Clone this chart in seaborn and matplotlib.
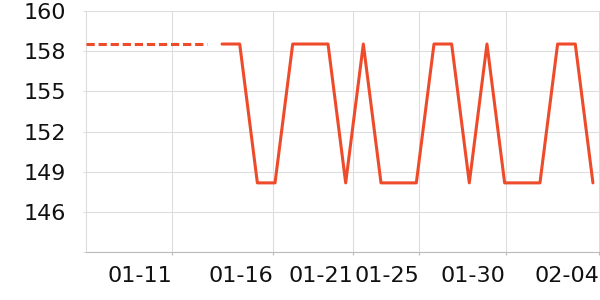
import matplotlib
matplotlib.use("Agg")
import matplotlib.pyplot as plt
import seaborn as sns
import pandas as pd
import numpy as np

# ---- data ----
day_index = list(range(22))
values = [158, 158, 148, 148, 158, 158, 158, 148, 158, 148, 148,
          148, 158, 158, 148, 158, 148, 148, 148, 158, 158, 148]
lead_x = [-7.72, -0.85]
lead_values = [158, 158]
tick_labels = ["01-11", "01-16", "01-21", "01-25", "01-30", "02-04"]
tick_pos = [-2.83, 2.89, 7.41, 11.15, 16.06, 21.34]
y_tick_labels = ["", "146", "149", "152", "155", "158", "160"]

x_min, x_max = -7.72, 21.40
y_min, y_max = 143.0, 160.4

color = "#EE4B2B"
grid = "#dddddd"

sns.set_theme(style="white")
plt.rcParams["font.family"] = ["DejaVu Sans"]

fig = plt.figure(figsize=(6, 3), dpi=100)
ax = fig.add_axes([85.7 / 600, 1 - 252.3 / 300, 1 - 85.7 / 600, (252.3 - 10.7) / 300])

df = pd.DataFrame({"x": day_index, "y": values})
lead = pd.DataFrame({"x": lead_x, "y": lead_values})
sns.lineplot(data=lead, x="x", y="y", ax=ax, color=color, lw=2.2,
             linestyle=(0, (2.7, 1.25)), zorder=3)
sns.lineplot(data=df, x="x", y="y", ax=ax, color=color, lw=2.2, zorder=3)

ax.set_xlim(x_min, x_max)
ax.set_ylim(y_min, y_max)
ax.set_yticks(np.linspace(y_min, y_max, 7))
ax.set_yticklabels(y_tick_labels)
ax.set_xticks(tick_pos)
ax.set_xticklabels(tick_labels, ha="right")
ax.set_xlabel("")
ax.set_ylabel("")

ax.grid(True, color=grid, lw=0.8)
ax.set_axisbelow(True)
for s in ["top", "right"]:
    ax.spines[s].set_visible(False)
ax.spines["left"].set_color(grid)
ax.spines["left"].set_linewidth(0.8)
ax.spines["bottom"].set_color("#bbbbbb")
ax.spines["bottom"].set_linewidth(0.8)

ax.tick_params(axis="y", length=2.2, width=0.8, color=grid, pad=12.0,
               labelsize=16, labelcolor="#111111", left=True)
ax.tick_params(axis="x", length=2.2, width=0.8, color="#bbbbbb", pad=7.5,
               labelsize=16, labelcolor="#111111", bottom=True)

fig.savefig("out.png", dpi=100)
